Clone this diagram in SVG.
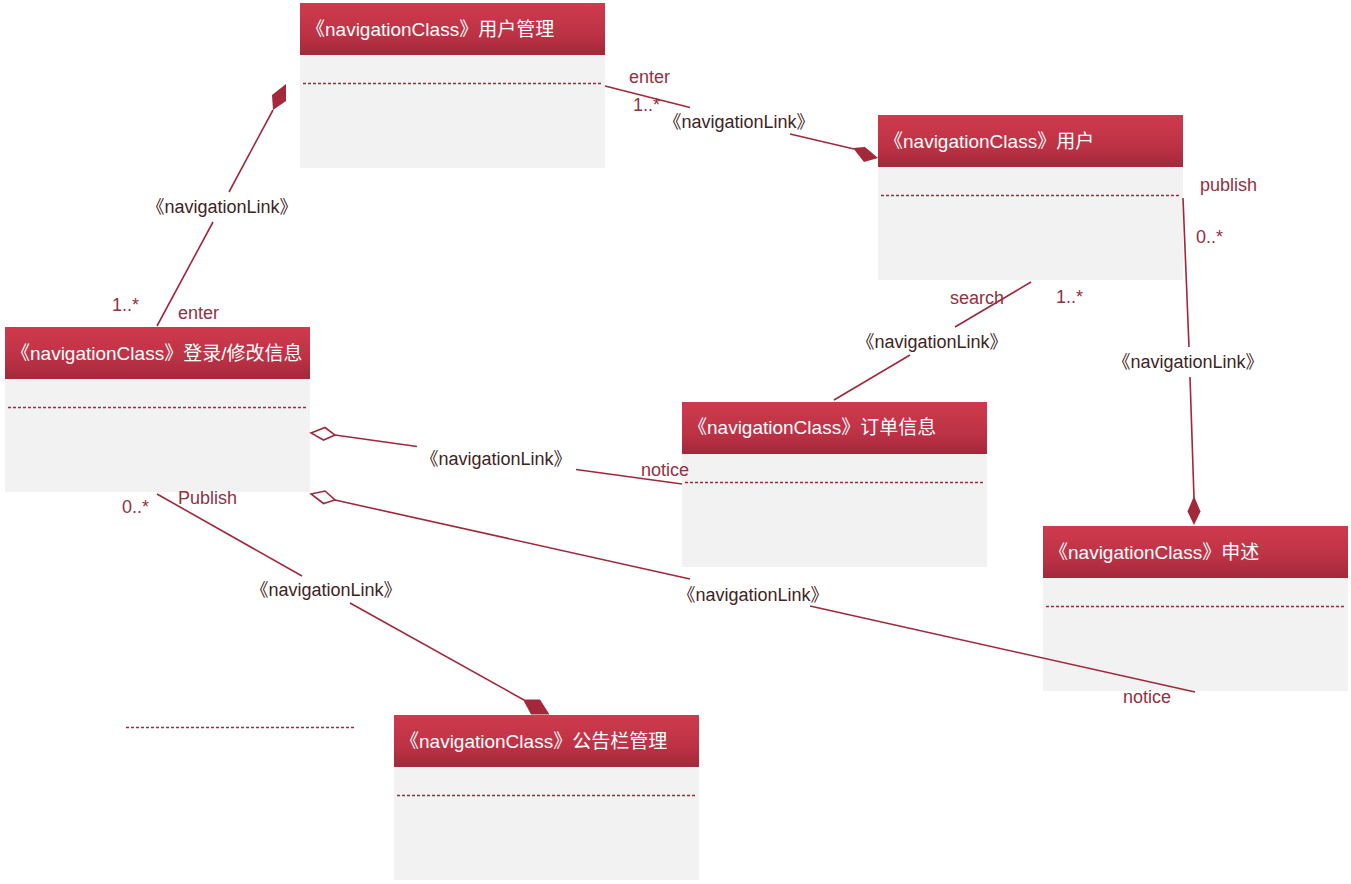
<svg xmlns="http://www.w3.org/2000/svg" width="1351" height="884" viewBox="0 0 1351 884">
<defs>
<linearGradient id="hdr" x1="0" y1="0" x2="0" y2="1">
<stop offset="0" stop-color="#cf3a4d"/>
<stop offset="0.6" stop-color="#bd3245"/>
<stop offset="1" stop-color="#a3283a"/>
</linearGradient>
<style>
.hd{fill:url(#hdr)}
.bd{fill:#f2f2f2}
.sep{stroke:#a32a3c;stroke-width:1.3;stroke-dasharray:3 2;fill:none}
.tt{font-family:"Liberation Sans","Noto Sans CJK SC",sans-serif;font-size:19px;fill:#ffffff}
.ln{stroke:#a0283b;stroke-width:1.6;fill:none}
.fd{fill:#a3283a;stroke:none}
.od{fill:#ffffff;stroke:#a0283b;stroke-width:1.6}
.lb{font-family:"Liberation Sans","Noto Sans CJK SC",sans-serif;font-size:18px;fill:#3f2424;text-anchor:middle}
.rl{font-family:"Liberation Sans","Noto Sans CJK SC",sans-serif;font-size:18px;fill:#94303f}
</style>
</defs>
<rect width="1351" height="884" fill="#ffffff"/>

<g id="n1">
<rect class="bd" x="300" y="55" width="305" height="113"/>
<rect class="hd" x="300" y="3" width="305" height="52"/>
<line class="sep" x1="303" y1="83.5" x2="602" y2="83.5"/>
<text class="tt" x="306" y="36">《navigationClass》用户管理</text>
</g>

<g id="n2">
<rect class="bd" x="878" y="167" width="305" height="113"/>
<rect class="hd" x="878" y="115" width="305" height="52"/>
<line class="sep" x1="881" y1="195.5" x2="1180" y2="195.5"/>
<text class="tt" x="884" y="148">《navigationClass》用户</text>
</g>

<g id="n3">
<rect class="bd" x="5" y="379" width="305" height="113"/>
<rect class="hd" x="5" y="327" width="305" height="52"/>
<line class="sep" x1="8" y1="407.5" x2="307" y2="407.5"/>
<text class="tt" x="11" y="360">《navigationClass》登录/修改信息</text>
</g>

<g id="n4">
<rect class="bd" x="682" y="454" width="305" height="113"/>
<rect class="hd" x="682" y="402" width="305" height="52"/>
<line class="sep" x1="685" y1="482.5" x2="984" y2="482.5"/>
<text class="tt" x="688" y="434">《navigationClass》订单信息</text>
</g>

<g id="n5">
<rect class="bd" x="1043" y="578" width="305" height="113"/>
<rect class="hd" x="1043" y="526" width="305" height="52"/>
<line class="sep" x1="1046" y1="606.5" x2="1345" y2="606.5"/>
<text class="tt" x="1049" y="559">《navigationClass》申述</text>
</g>

<g id="n6">
<rect class="bd" x="394" y="767" width="305" height="113"/>
<rect class="hd" x="394" y="715" width="305" height="52"/>
<line class="sep" x1="397" y1="795.5" x2="696" y2="795.5"/>
<text class="tt" x="400" y="748">《navigationClass》公告栏管理</text>
</g>

<g id="extra">
<line class="sep" x1="126" y1="727.5" x2="354" y2="727.5"/>
</g>

<g id="connectors">
<!-- 登录 -> 用户管理 -->
<line class="ln" x1="273" y1="110" x2="229" y2="192"/>
<line class="ln" x1="213" y1="222" x2="157" y2="326"/>
<polygon class="fd" points="286,84 286,101 273,110 272,95"/>
<text class="lb" x="222" y="213">《navigationLink》</text>
<text class="rl" x="112" y="311">1..*</text>
<text class="rl" x="178" y="319">enter</text>

<!-- 用户管理 -> 用户 -->
<line class="ln" x1="605" y1="86" x2="690" y2="107.5"/>
<line class="ln" x1="790" y1="134" x2="854" y2="149"/>
<polygon class="fd" points="853,148 865,147 878,158 864,162"/>
<text class="lb" x="739" y="128">《navigationLink》</text>
<text class="rl" x="629" y="83">enter</text>
<text class="rl" x="633" y="111">1..*</text>

<!-- 用户 -> 订单信息 -->
<line class="ln" x1="1031" y1="282" x2="955" y2="327"/>
<line class="ln" x1="910" y1="355" x2="834" y2="400"/>
<text class="lb" x="932" y="348">《navigationLink》</text>
<text class="rl" x="950" y="304">search</text>
<text class="rl" x="1056" y="303">1..*</text>

<!-- 用户 -> 申述 -->
<line class="ln" x1="1183" y1="198" x2="1189" y2="347"/>
<line class="ln" x1="1190" y1="377" x2="1194" y2="498"/>
<polygon class="fd" points="1194,496 1200.5,511.5 1194,525 1187.5,511.5"/>
<text class="lb" x="1188" y="368">《navigationLink》</text>
<text class="rl" x="1200" y="191">publish</text>
<text class="rl" x="1196" y="243">0..*</text>

<!-- 登录 -> 订单信息 -->
<line class="ln" x1="335" y1="435" x2="417" y2="446.5"/>
<line class="ln" x1="576" y1="469.5" x2="682" y2="484"/>
<polygon class="od" points="311,433 325,427.5 335,435 323.5,440"/>
<text class="lb" x="496" y="465">《navigationLink》</text>
<text class="rl" x="641" y="476">notice</text>

<!-- 登录 -> 申述 -->
<line class="ln" x1="335" y1="500" x2="690" y2="579"/>
<line class="ln" x1="810" y1="606" x2="1195" y2="692"/>
<polygon class="od" points="311,494 325,491 335,500 323.5,503.5"/>
<text class="lb" x="753" y="601">《navigationLink》</text>
<text class="rl" x="1123" y="703">notice</text>

<!-- 登录 -> 公告栏管理 -->
<line class="ln" x1="157" y1="494" x2="302" y2="576"/>
<line class="ln" x1="350" y1="603" x2="524" y2="700"/>
<polygon class="fd" points="523,699.5 540,699.5 549.5,714.5 531,714.5"/>
<text class="lb" x="326" y="596">《navigationLink》</text>
<text class="rl" x="122" y="513">0..*</text>
<text class="rl" x="178" y="504">Publish</text>
</g>
</svg>
